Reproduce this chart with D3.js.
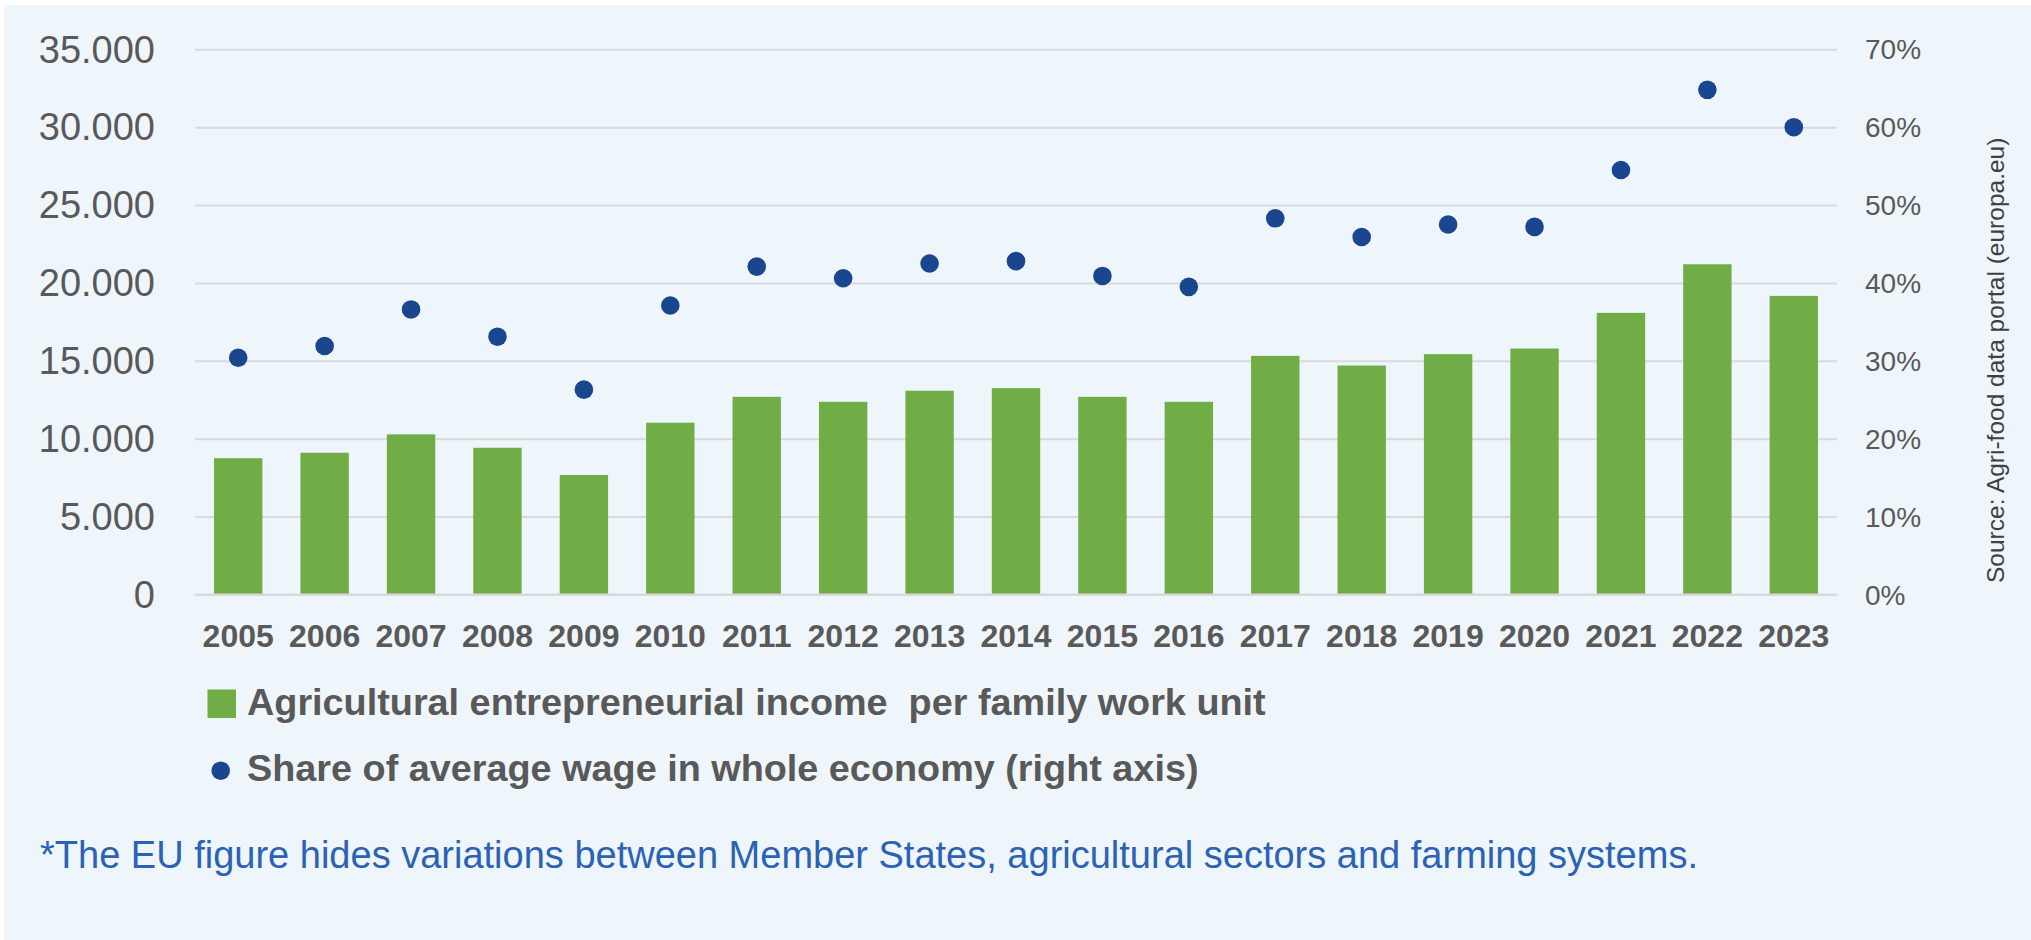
<!DOCTYPE html>
<html>
<head>
<meta charset="utf-8">
<script src="https://cdn.jsdelivr.net/npm/d3@7"></script>
<style>
  html, body { margin: 0; padding: 0; background: #ffffff; }
  svg { display: block; }
  text { font-family: "Liberation Sans", Arial, sans-serif; }
</style>
</head>
<body>
<svg id="chart" width="2031" height="940"></svg>
<script>
// Years on the category axis
const years = ["2005","2006","2007","2008","2009","2010","2011","2012","2013","2014",
               "2015","2016","2017","2018","2019","2020","2021","2022","2023"];

// Agricultural entrepreneurial income per family work unit (EUR)
const income = [8750, 9100, 10280, 9420, 7670, 11030, 12690, 12370, 13080, 13250,
                12690, 12370, 15320, 14700, 15430, 15790, 18080, 21200, 19170];

// Share of average wage in whole economy (%)
const share = [30.4, 31.9, 36.6, 33.1, 26.3, 37.1, 42.1, 40.6, 42.5, 42.8,
               40.9, 39.5, 48.3, 45.9, 47.5, 47.2, 54.5, 64.8, 60.0];

// Axis ticks
const leftTicks = [0, 5000, 10000, 15000, 20000, 25000, 30000, 35000];
const leftTickLabels = ["0", "5.000", "10.000", "15.000", "20.000", "25.000", "30.000", "35.000"];
const rightTicks = [0, 10, 20, 30, 40, 50, 60, 70];
const rightTickLabels = ["0%", "10%", "20%", "30%", "40%", "50%", "60%", "70%"];

// Texts
const legendLabels = ["Agricultural entrepreneurial income  per family work unit",
                      "Share of average wage in whole economy (right axis)"];
const footnote = "*The EU figure hides variations between Member States, agricultural sectors and farming systems.";
const sourceNote = "Source: Agri-food data portal (europa.eu)";

const W = 2031, H = 940;
const plot = { left: 195, right: 1837, top: 49.3, bottom: 594.5 };

const colors = {
  panel: "#eef6fc",
  grid: "#d9d9d9",
  bar: "#70ad47",
  dot: "#19468f",
  label: "#595959",
  note: "#2b62b6",
  source: "#404040"
};

const svg = d3.select("#chart");

// light panel behind everything
svg.append("rect")
  .attr("x", 4).attr("y", 5)
  .attr("width", W - 4).attr("height", H - 5)
  .attr("fill", colors.panel);

const x = d3.scaleBand()
  .domain(years)
  .range([plot.left, plot.right])
  .paddingInner(0.44)
  .paddingOuter(0.22);

const yL = d3.scaleLinear().domain([0, 35000]).range([plot.bottom, plot.top]);
const yR = d3.scaleLinear().domain([0, 70]).range([plot.bottom, plot.top]);

// gridlines
const grid = svg.append("g")
  .attr("transform", `translate(${plot.left},0)`)
  .call(d3.axisLeft(yL).tickValues(leftTicks).tickSize(-(plot.right - plot.left)).tickFormat(""));
grid.select(".domain").remove();
grid.selectAll(".tick line").attr("stroke", colors.grid).attr("stroke-width", 2);

// left axis labels
const axL = svg.append("g")
  .attr("transform", `translate(155,0)`)
  .call(d3.axisLeft(yL).tickValues(leftTicks).tickSize(0).tickPadding(0)
        .tickFormat((d, i) => leftTickLabels[i]));
axL.select(".domain").remove();
axL.selectAll(".tick text")
  .attr("x", 0).attr("dy", null).attr("y", 12.7)
  .attr("font-size", 38).attr("fill", colors.label)
  .attr("font-family", "'Liberation Sans', Arial, sans-serif");

// right axis labels
const axR = svg.append("g")
  .attr("transform", `translate(1865,0)`)
  .call(d3.axisRight(yR).tickValues(rightTicks).tickSize(0).tickPadding(0)
        .tickFormat((d, i) => rightTickLabels[i]));
axR.select(".domain").remove();
axR.selectAll(".tick text")
  .attr("x", 0).attr("dy", null).attr("y", 9.5)
  .attr("font-size", 28).attr("fill", colors.label)
  .attr("font-family", "'Liberation Sans', Arial, sans-serif");

// bars
svg.append("g").selectAll("rect")
  .data(years)
  .join("rect")
  .attr("x", d => x(d))
  .attr("width", x.bandwidth())
  .attr("y", (d, i) => yL(income[i]))
  .attr("height", (d, i) => yL(0) - yL(income[i]))
  .attr("fill", colors.bar);

// zero line drawn over the bar bases
svg.append("line")
  .attr("x1", plot.left).attr("x2", plot.right)
  .attr("y1", yL(0)).attr("y2", yL(0))
  .attr("stroke", colors.grid).attr("stroke-width", 2);

// dots on the right axis scale
svg.append("g").selectAll("circle")
  .data(years)
  .join("circle")
  .attr("cx", d => x(d) + x.bandwidth() / 2)
  .attr("cy", (d, i) => yR(share[i]))
  .attr("r", 9.3)
  .attr("fill", colors.dot);

// category axis
const axX = svg.append("g")
  .attr("transform", `translate(0,${plot.bottom})`)
  .call(d3.axisBottom(x).tickSize(0).tickPadding(0));
axX.select(".domain").remove();
axX.selectAll(".tick text")
  .attr("dy", null).attr("y", 52.5)
  .attr("font-size", 32).attr("font-weight", "bold").attr("fill", colors.label)
  .attr("font-family", "'Liberation Sans', Arial, sans-serif");

// legend
const legend = svg.append("g");
legend.append("rect")
  .attr("x", 207.5).attr("y", 689.5).attr("width", 28.5).attr("height", 28.5)
  .attr("fill", colors.bar);
legend.append("circle")
  .attr("cx", 220.7).attr("cy", 770.7).attr("r", 9.3)
  .attr("fill", colors.dot);
legend.selectAll("text")
  .data(legendLabels)
  .join("text")
  .attr("x", 247)
  .attr("y", (d, i) => i === 0 ? 715 : 781)
  .attr("font-size", 37.8)
  .attr("font-weight", "bold")
  .attr("fill", colors.label)
  .style("white-space", "pre")
  .text(d => d);

// footnote
svg.append("text")
  .attr("x", 40).attr("y", 868)
  .attr("font-size", 38)
  .attr("fill", colors.note)
  .text(footnote);

// rotated source line
svg.append("text")
  .attr("transform", `translate(2004,583) rotate(-90)`)
  .attr("x", 0).attr("y", 0)
  .attr("font-size", 24.5)
  .attr("fill", colors.source)
  .text(sourceNote);
</script>
</body>
</html>
